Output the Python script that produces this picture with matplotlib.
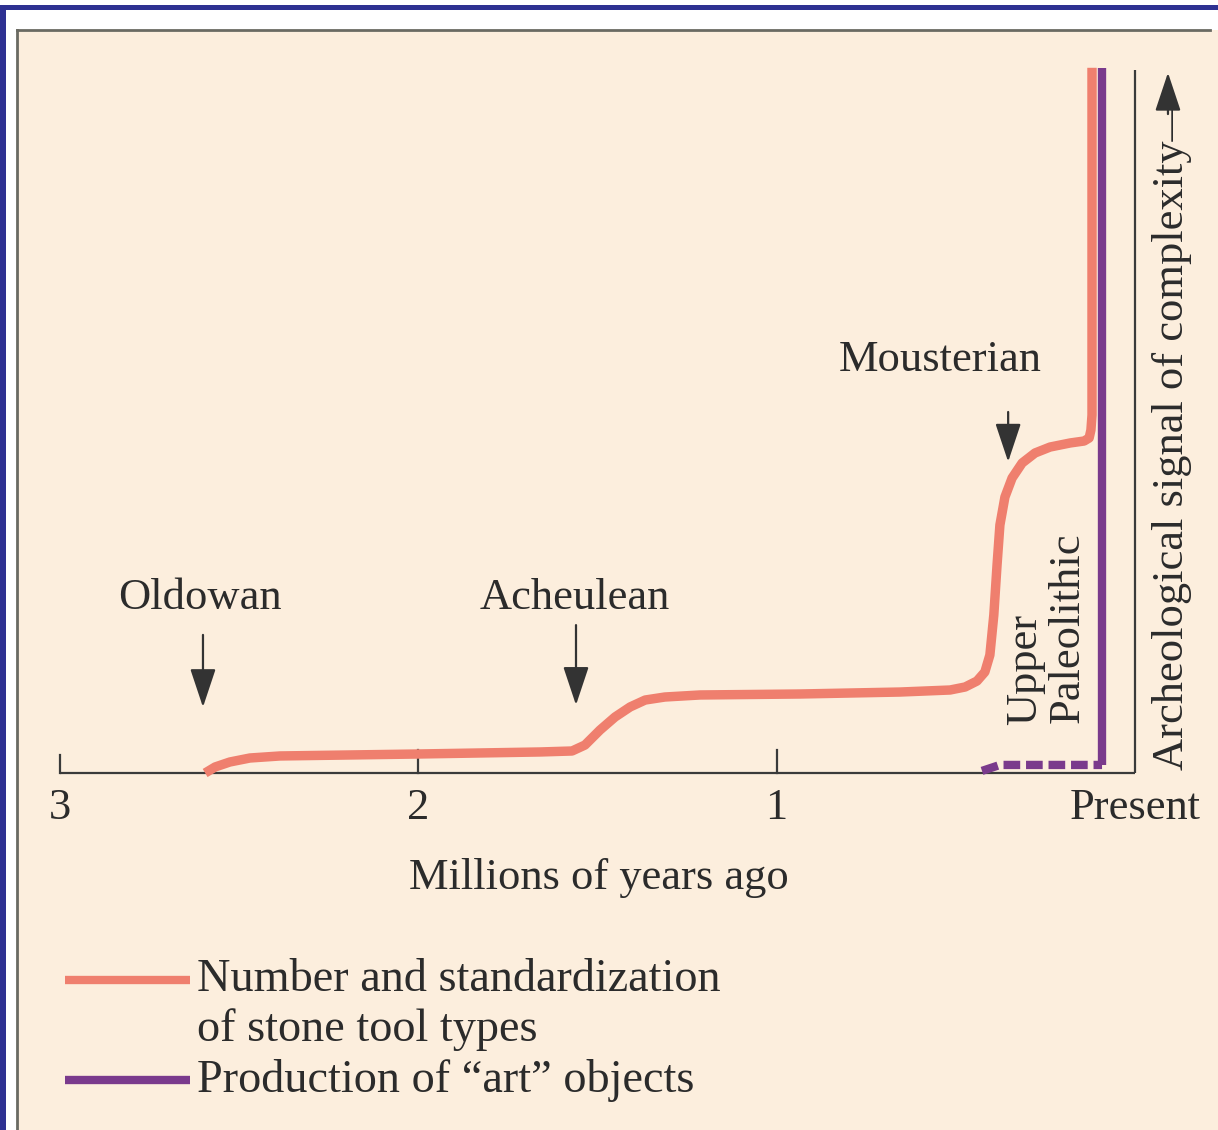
import matplotlib.pyplot as plt
from matplotlib.patches import Rectangle

# Werte (x = Millionen Jahre vor heute, y = Komplexitaet 0..100)
tools_x = [2.595, 2.567, 2.526, 2.470, 2.386, 2.001, 1.660, 1.571, 1.535, 1.493,
           1.451, 1.409, 1.367, 1.312, 1.214, 0.935, 0.656, 0.516, 0.474, 0.441,
           0.419, 0.405, 0.394, 0.385, 0.377, 0.363, 0.343, 0.315, 0.279, 0.237,
           0.181, 0.142, 0.128, 0.123, 0.120, 0.120]
tools_y = [0.0, 0.86, 1.57, 2.14, 2.43, 2.71, 3.00, 3.14, 3.99, 6.13,
           7.99, 9.42, 10.41, 10.84, 11.13, 11.27, 11.55, 11.84, 12.27, 13.12,
           14.41, 16.83, 22.54, 29.67, 35.38, 39.37, 42.08, 44.22, 45.65, 46.50,
           47.08, 47.36, 47.79, 48.93, 51.07, 100.6]

art_dash_x = [0.427, 0.377, 0.092]
art_dash_y = [0.3, 1.15, 1.15]
art_solid_x = [0.092, 0.092]
art_solid_y = [1.15, 100.6]

ticks = [3, 2, 1, 0]
tick_labels = ['3', '2', '1', 'Present']

# Kulturen: Name, Pfeil bei x, Pfeil von y bis y, Textposition
cultures = ['Oldowan', 'Acheulean', 'Mousterian']
culture_x = [2.601, 1.560, 0.354]
culture_from = [19.7, 21.1, 51.5]
culture_to = [9.4, 9.7, 44.4]
label_x = [2.609, 1.563, 0.544]
label_y = [25.0, 25.0, 58.9]

tools_name = ['Number and standardization', 'of stone tool types']
art_name = 'Production of \u201cart\u201d objects'

orange = '#EF7F6E'
purple = '#7A3A8C'
ink = '#2B2B2B'
cream = '#FCEEDD'

W, H = 1218, 1130
fig = plt.figure(figsize=(W / 100, H / 100), dpi=100)
fig.patch.set_facecolor('white')

# Rahmen / Hintergrund wie im Scan
fig.add_artist(Rectangle((17 / W, 0), 1 - 17 / W, 1 - 30 / H, transform=fig.transFigure,
                         facecolor=cream, edgecolor='none', zorder=0))
fig.add_artist(plt.Line2D([17 / W, 17 / W], [0, 1 - 30 / H], transform=fig.transFigure,
                          color='#6a6a62', lw=2))
fig.add_artist(plt.Line2D([17 / W, 1210 / W], [1 - 30 / H, 1 - 30 / H], transform=fig.transFigure,
                          color='#6a6a62', lw=2))
fig.add_artist(Rectangle((0, 1 - 10 / H), 1, 5 / H, transform=fig.transFigure,
                         facecolor='#2E3192', edgecolor='none'))
fig.add_artist(Rectangle((0, 0), 6 / W, 1 - 5 / H, transform=fig.transFigure,
                         facecolor='#2E3192', edgecolor='none'))

ax = fig.add_axes([0, 0, 1, 1])
ax.set_facecolor('none')
ax.axis('off')

# Kalibrierung: x=3 bei px 60, x=0 bei px 1135; y=0 bei px 773, y=100 bei px 72
px_per_myr = (1135 - 60) / 3
px_per_unit = (773 - 72) / 100
ax.set_xlim(3 + 60 / px_per_myr, 3 - (W - 60) / px_per_myr)
ax.set_ylim((773 - H) / px_per_unit, 773 / px_per_unit)

serif = 'Liberation Serif'
arrow_style = dict(arrowstyle='-|>,head_length=1.5,head_width=0.5', mutation_scale=16,
                   color='#333333', lw=1.6, shrinkA=0, shrinkB=0)

# Achsen
ax.plot([3, 0], [0, 0], color='#3a3a3a', lw=1.6, solid_capstyle='butt')
ax.plot([0, 0], [0, 100.3], color='#3a3a3a', lw=1.6, solid_capstyle='butt')
for t in ticks[:-1]:
    h = 2.6 if t == 3 else 3.3
    ax.plot([t, t], [0, h], color='#3a3a3a', lw=1.6)
for t, lab in zip(ticks, tick_labels):
    ax.text(t, -5.0, lab, ha='center', va='center', fontsize=32, family=serif, color=ink)
ax.text(1.496, -15.0, 'Millions of years ago', ha='center', va='center', fontsize=32,
        family=serif, color=ink)

# Kurven
ax.plot(tools_x, tools_y, color=orange, lw=6.8, solid_joinstyle='round',
        solid_capstyle='butt', zorder=3)
dash, = ax.plot(art_dash_x, art_dash_y, color=purple, lw=6, dash_capstyle='butt', zorder=3)
dash.set_dashes((2.0, 0.7))
ax.plot(art_solid_x, art_solid_y, color=purple, lw=6, solid_capstyle='butt', zorder=3)

# Pfeile zu den Kulturen
for name, x, y0, y1, lx, ly in zip(cultures, culture_x, culture_from, culture_to, label_x, label_y):
    ax.annotate('', xy=(x, y1), xytext=(x, y0), arrowprops=arrow_style)
    ax.text(lx, ly, name, ha='center', va='center', fontsize=32, family=serif, color=ink)

ax.text(0.307, 6.85, 'Upper', rotation=90, ha='center', va='bottom', fontsize=32,
        family=serif, color=ink)
ax.text(0.187, 7.1, 'Paleolithic', rotation=90, ha='center', va='bottom', fontsize=32,
        family=serif, color=ink)

# y-Achsentitel mit Pfeil
ax.text(-0.103, 0.4, 'Archeological signal of complexity\u2014', rotation=90, ha='center',
        va='bottom', fontsize=32, family=serif, color=ink)
ax.annotate('', xy=(-0.092, 99.9), xytext=(-0.092, 94.0), arrowprops=arrow_style)

# Legende (handgezeichnet wie im Original)
ax.plot([65 / W, 190 / W], [1 - 980 / H, 1 - 980 / H], transform=ax.transAxes,
        color=orange, lw=6, solid_capstyle='butt')
for i, line in enumerate(tools_name):
    ax.text(197 / W, 1 - (980 + 50 * i) / H, line, transform=ax.transAxes, ha='left',
            va='center', fontsize=33.3, family=serif, color=ink)
ax.plot([65 / W, 190 / W], [1 - 1080 / H, 1 - 1080 / H], transform=ax.transAxes,
        color=purple, lw=6, solid_capstyle='butt')
ax.text(197 / W, 1 - 1080 / H, art_name, transform=ax.transAxes, ha='left',
        va='center', fontsize=33.3, family=serif, color=ink)

fig.savefig('out.png', dpi=100, facecolor=fig.get_facecolor())
